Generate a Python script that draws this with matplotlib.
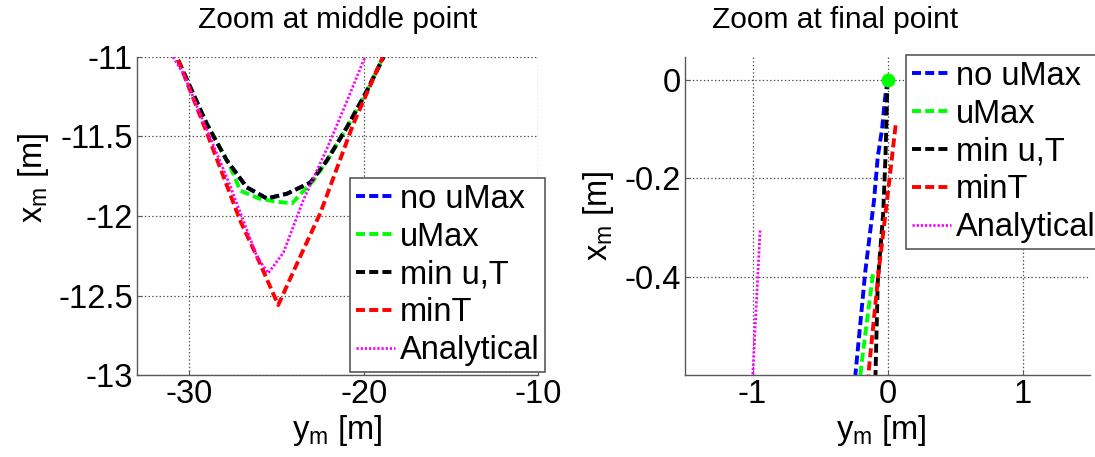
#-----------------------------------Bibliotecas--------------------------------------------------------------#

import numpy as np
import matplotlib
matplotlib.use('Agg')
import matplotlib.pyplot as plt

plt.rcParams['font.family'] = ['Liberation Sans', 'DejaVu Sans']
plt.rcParams['mathtext.fontset'] = 'custom'
plt.rcParams['mathtext.rm'] = 'Liberation Sans'
plt.rcParams['axes.unicode_minus'] = False
plt.rcParams['lines.scale_dashes'] = False

#-------------------------------------Dados------------------------------------------------------------------#

labels = ['no uMax', 'uMax', 'min u,T', 'minT', 'Analytical']

# zoom no ponto do meio: (y_m, x_m)
mid_noumax_y = [-30.64, -29.0, -27.85, -26.7, -25.55, -24.4, -23.06, -22.1, -20.95, -19.8, -18.86]
mid_noumax_x = [-11.02, -11.42, -11.65, -11.82, -11.89, -11.86, -11.79, -11.65, -11.44, -11.21, -11.0]

mid_umax_y = [-30.64, -29.0, -27.65, -27.08, -26.0, -25.0, -24.1, -23.6, -22.9, -22.1, -20.95, -19.8, -18.86]
mid_umax_x = [-11.02, -11.42, -11.69, -11.84, -11.89, -11.91, -11.92, -11.86, -11.78, -11.65, -11.44, -11.21, -11.0]

mid_minuT_y = [-30.64, -29.0, -27.85, -26.7, -25.55, -24.4, -23.06, -22.1, -20.95, -19.8, -18.86]
mid_minuT_x = [-11.02, -11.42, -11.65, -11.82, -11.89, -11.86, -11.79, -11.65, -11.44, -11.21, -11.0]

mid_minT_y = [-30.64, -28.98, -27.08, -26.1, -24.9, -23.7, -22.48, -20.59, -18.9]
mid_minT_x = [-11.02, -11.48, -12.03, -12.26, -12.56, -12.27, -11.98, -11.42, -11.0]

mid_anal_y = [-30.93, -30.36, -27.8, -26.1, -25.47, -24.6, -23.46, -22.08, -20.93, -20.0, -19.8]
mid_anal_x = [-11.0, -11.1, -11.77, -12.26, -12.36, -12.23, -11.9, -11.57, -11.27, -11.02, -10.98]

# zoom no ponto final
fin_noumax_y = [0.0, -0.02, -0.04, -0.072, -0.10, -0.164, -0.238]
fin_noumax_x = [0.0, -0.041, -0.099, -0.156, -0.245, -0.388, -0.6]

fin_umax_y = [-0.108, -0.196, -0.2]
fin_umax_x = [-0.395, -0.585, -0.6]

fin_minuT_y = [0.0, -0.015, -0.032, -0.072, -0.089]
fin_minuT_x = [0.0, -0.156, -0.272, -0.41, -0.6]

fin_minT_y = [0.06, 0.022, -0.015, -0.065, -0.142]
fin_minT_x = [-0.092, -0.184, -0.272, -0.388, -0.6]

fin_anal_y = [-0.944, -0.998]
fin_anal_x = [-0.306, -0.6]

final_pt_y = [0.0]
final_pt_x = [0.0]

mid_xticks = [-30, -20, -10]
mid_xticklabels = ['-30', '-20', '-10']
mid_yticks = [-13, -12.5, -12, -11.5, -11]
mid_yticklabels = ['-13', '-12.5', '-12', '-11.5', '-11']

fin_xticks = [-1, 0, 1]
fin_xticklabels = ['-1', '0', '1']
fin_yticks = [-0.4, -0.2, 0]
fin_yticklabels = ['-0.4', '-0.2', '0']

#-------------------------------------Estilos----------------------------------------------------------------#

cores = ['#0000ff', '#00ff00', '#000000', '#ff0000', '#ff00ff']
dash = (6.5, 3.0)
dot = (1.6, 1.4)
lw = 2.8
fs = 23.5

W, H = 1095, 457
fig = plt.figure(figsize=(W / 100, H / 100), dpi=100)
ax1 = fig.add_axes([137 / W, 82 / H, 401 / W, 318 / H])
ax2 = fig.add_axes([685 / W, 82 / H, 405 / W, 318 / H])


def estilo(ax):
    for s in ['top', 'right']:
        ax.spines[s].set_visible(False)
    for s in ['left', 'bottom']:
        ax.spines[s].set_color('0.35')
        ax.spines[s].set_linewidth(1.0)
    ax.tick_params(direction='in', length=3.5, width=0.8, color='0.35', labelsize=fs, pad=3)
    ax.grid(True, linestyle=':', color='0.3', linewidth=0.9)
    ax.set_axisbelow(True)


# meio
series_mid = [(mid_noumax_y, mid_noumax_x), (mid_umax_y, mid_umax_x), (mid_minuT_y, mid_minuT_x),
              (mid_minT_y, mid_minT_x), (mid_anal_y, mid_anal_x)]
for i, (yy, xx) in enumerate(series_mid):
    if i < 4:
        ax1.plot(yy, xx, color=cores[i], lw=lw, dashes=dash, label=labels[i])
    else:
        ax1.plot(yy, xx, color=cores[i], lw=2.0, dashes=dot, label=labels[i])

estilo(ax1)
ax1.set_xlim(-33, -10)
ax1.set_ylim(-13, -11)
ax1.set_xticks(mid_xticks)
ax1.set_xticklabels(mid_xticklabels)
ax1.set_yticks(mid_yticks)
ax1.set_yticklabels(mid_yticklabels)
ax1.set_title('Zoom at middle point', fontsize=21.5, pad=21)
ax1.set_xlabel('y$_\\mathregular{m}$ [m]', fontsize=fs)
ax1.set_ylabel('x$_\\mathregular{m}$ [m]', fontsize=fs)
ax1.xaxis.set_label_coords(0.5, -0.12)
ax1.yaxis.set_label_coords(-0.215, 0.62)

# final
series_fin = [(fin_noumax_y, fin_noumax_x), (fin_umax_y, fin_umax_x), (fin_minuT_y, fin_minuT_x),
              (fin_minT_y, fin_minT_x), (fin_anal_y, fin_anal_x)]
for i, (yy, xx) in enumerate(series_fin):
    if i < 4:
        ax2.plot(yy, xx, color=cores[i], lw=lw, dashes=dash, label=labels[i])
    else:
        ax2.plot(yy, xx, color=cores[i], lw=2.0, dashes=dot, label=labels[i])
ax2.plot(final_pt_y, final_pt_x, 'o', color='#00ff00', markersize=9, zorder=5)

estilo(ax2)
ax2.set_xlim(-1.5, 1.5)
ax2.set_ylim(-0.6, 0.047)
ax2.set_xticks(fin_xticks)
ax2.set_xticklabels(fin_xticklabels)
ax2.set_yticks(fin_yticks)
ax2.set_yticklabels(fin_yticklabels)
ax2.set_title('Zoom at final point', fontsize=21.5, pad=21, x=0.37)
ax2.set_xlabel('y$_\\mathregular{m}$ [m]', fontsize=fs)
ax2.set_ylabel('x$_\\mathregular{m}$ [m]', fontsize=fs)
ax2.xaxis.set_label_coords(0.485, -0.12)
ax2.yaxis.set_label_coords(-0.17, 0.5)

#-------------------------------------Legendas---------------------------------------------------------------#

for ax, (px, py) in [(ax1, (350, 178)), (ax2, (906, 55))]:
    leg = ax.legend(loc='upper left', bbox_to_anchor=(px / W, 1 - py / H), bbox_transform=fig.transFigure,
                    borderaxespad=0, fontsize=fs, handlelength=1.2, handletextpad=0.15,
                    labelspacing=0.21, borderpad=0.18, fancybox=False, framealpha=1)
    leg.get_frame().set_edgecolor('0.35')
    leg.get_frame().set_linewidth(1.2)

fig.savefig('out.png', dpi=100)
print('ok')
